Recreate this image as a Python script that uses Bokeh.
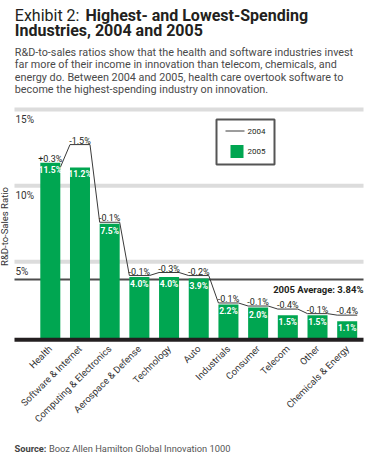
import numpy as np
from bokeh.plotting import figure
from bokeh.models import Range1d
from bokeh.core.properties import value
from bokeh.embed import file_html
from bokeh.resources import INLINE

# ---------------- data ----------------
categories = ["Health", "Software & Internet", "Computing & Electronics",
              "Aerospace & Defense", "Technology", "Auto", "Industrials",
              "Consumer", "Telecom", "Other", "Chemicals & Energy"]
ratio_2005 = [11.5, 11.2, 7.5, 4.0, 4.0, 3.9, 2.2, 2.0, 1.5, 1.5, 1.1]
ratio_2004 = [11.2, 12.7, 7.6, 4.1, 4.3, 4.1, 2.3, 2.1, 1.9, 1.6, 1.5]
change_labels = ["+0.3%", "-1.5%", "-0.1%", "-0.1%", "-0.3%", "-0.2%",
                 "-0.1%", "-0.1%", "-0.4%", "-0.1%", "-0.4%"]
average_2005 = 3.84
y_ticks = [5, 10, 15]
y_tick_labels = ["5%", "10%", "15%"]

# ---------------- layout helpers (page pixels -> data) ----------------
W, H = 364, 455
X0, KX = 49.8, 29.69      # px of first category, px per category
Y0, KY = 337.5, 15.23     # px of zero, px per percent


def ix(px):
    return ((px - 8) - X0) / KX


def iy(py):
    return (Y0 - (py - 8)) / KY


FONT = value("Roboto")
GREEN = "#00a651"
DARK = "#231f20"

p = figure(width=W, height=H, output_backend="svg", toolbar_location=None,
           x_axis_location=None, y_axis_location=None,
           x_range=Range1d(ix(8), ix(8 + W)), y_range=Range1d(iy(8 + H), iy(8)),
           min_border=0, outline_line_color=None,
           background_fill_color="white", border_fill_color="white")
p.grid.visible = False

idx = np.arange(len(categories))
bw = 0.674
gx0, gx1 = ix(22), ix(371)

# gridlines (light bands)
for t in y_ticks:
    p.line([gx0, gx1], [t, t], line_color="#dcdcdc", line_width=4)

# average line
p.line([gx0, gx1], [average_2005, average_2005], line_color="#4d4d4d", line_width=2)

# 2004 line (step-like), behind bars
lx, ly = [], []
for i, v in zip(idx, ratio_2004):
    lx += [i - bw / 2, i + bw / 2]
    ly += [v, v]
p.line(lx, ly, line_color="#3a3a3a", line_width=1)

# 2005 bars
p.vbar(x=idx, top=ratio_2005, width=bw, fill_color=GREEN, line_color=None)

# baseline
p.line([gx0, gx1], [iy(347.2), iy(347.2)], line_color=DARK, line_width=4)

# bar value labels
p.text(x=idx, y=ratio_2005, text=[f"{v:.1f}%" for v in ratio_2005],
       text_align="center", text_baseline="top", y_offset=2,
       text_font=FONT, text_font_size="8.5px", text_font_style="bold",
       text_color="white")

# change labels above segments
top_vals = np.maximum(np.array(ratio_2004), np.array(ratio_2005))
p.text(x=idx, y=top_vals, text=change_labels, text_align="center",
       text_baseline="alphabetic", y_offset=-4, text_font=FONT,
       text_font_size="9px", text_color=DARK)

# y tick labels
p.text(x=[ix(23)] * len(y_ticks), y=y_ticks, text=y_tick_labels,
       text_align="left", text_baseline="top", y_offset=4, text_font=FONT,
       text_font_size="10px", text_color="#333333")

# y axis title
p.text(x=[ix(12)], y=[iy(234)], text=["R&D-to-Sales Ratio"], angle=np.pi / 2,
       text_align="center", text_baseline="middle", text_font=FONT,
       text_font_size="9.5px", text_color="#333333")

# average label
p.text(x=[ix(371)], y=[average_2005], text=[f"2005 Average: {average_2005:.2f}%"],
       text_align="right", text_baseline="top", y_offset=4, text_font=FONT,
       text_font_size="9.5px", text_font_style="bold", text_color=DARK)

# category labels (rotated)
p.text(x=idx, y=[0] * len(categories), text=categories, angle=np.pi / 4,
       text_align="right", text_baseline="middle", x_offset=0, y_offset=9,
       text_font=FONT, text_font_size="9.5px", text_color="#333333")

# legend (manual)
p.quad(left=[ix(224)], right=[ix(282)], top=[iy(127)], bottom=[iy(172)],
       fill_color="white", line_color="#555555", line_width=2)
p.line([ix(233), ix(252)], [iy(138.5), iy(138.5)], line_color="#3a3a3a", line_width=1)
p.quad(left=[ix(238)], right=[ix(251)], top=[iy(152.5)], bottom=[iy(165.5)],
       fill_color=GREEN, line_color=None)
p.text(x=[ix(255), ix(255)], y=[iy(138.5), iy(159)], text=["2004", "2005"],
       text_align="left", text_baseline="middle", text_font=FONT,
       text_font_size="8px", text_color=DARK)

# title
p.text(x=[ix(22.3)], y=[iy(22.5)], text=["Exhibit 2:"], text_baseline="alphabetic",
       text_font=FONT, text_font_size="16px", text_color=DARK)
p.text(x=[ix(93), ix(22.3)], y=[iy(22.5), iy(38.3)],
       text=["Highest- and Lowest-Spending", "Industries, 2004 and 2005"],
       text_baseline="alphabetic", text_font=FONT, text_font_size="16px",
       text_font_style="bold", text_color=DARK)

# subtitle
sub_lines = ["R&D-to-sales ratios show that the health and software industries invest",
             "far more of their income in innovation than telecom, chemicals, and",
             "energy do. Between 2004 and 2005, health care overtook software to",
             "become the highest-spending industry on innovation."]
p.text(x=[ix(22.3)] * 4, y=[iy(60 + 12.3 * k) for k in range(4)], text=sub_lines,
       text_baseline="alphabetic", text_font=FONT, text_font_size="10.8px",
       text_color="#4a4a4a")

# source
p.text(x=[ix(22)], y=[iy(455.5)], text=["Source:"], text_baseline="alphabetic",
       text_font=FONT, text_font_size="9.3px", text_font_style="bold",
       text_color="#444444")
p.text(x=[ix(56.5)], y=[iy(455.5)], text=["Booz Allen Hamilton Global Innovation 1000"],
       text_baseline="alphabetic", text_font=FONT, text_font_size="9.3px",
       text_color="#555555")

open("out.html", "w").write(file_html(p, INLINE))
